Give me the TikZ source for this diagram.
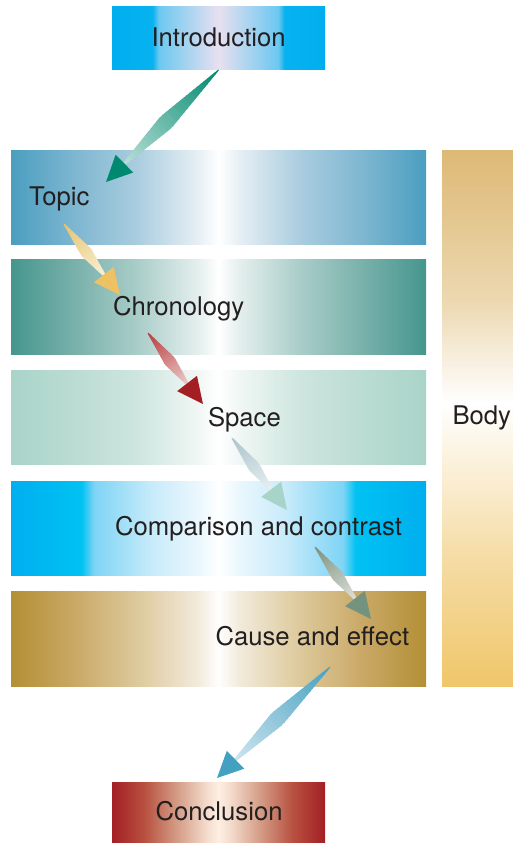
\documentclass[tikz,border=0pt]{standalone}
\usepackage{fontspec}
\setmainfont{TeX Gyre Heros}
\usetikzlibrary{calc}

\definecolor{txt}{HTML}{231F20}
% intro
\definecolor{iA}{HTML}{00AEEF}\definecolor{iB}{HTML}{08B2F0}\definecolor{iC}{HTML}{6CC8F0}\definecolor{iD}{HTML}{E8E0F0}
% topic
\definecolor{tA}{HTML}{4A9EC0}\definecolor{tB}{HTML}{7DB6D0}\definecolor{tC}{HTML}{A9CCDF}\definecolor{tD}{HTML}{E6EFF4}
% chronology
\definecolor{cA}{HTML}{45968E}\definecolor{cB}{HTML}{78B0AA}\definecolor{cC}{HTML}{A8CCC8}\definecolor{cD}{HTML}{E4EFED}
% space
\definecolor{sA}{HTML}{AAD4C9}\definecolor{sB}{HTML}{BADCD2}\definecolor{sC}{HTML}{CDE5DE}\definecolor{sD}{HTML}{F0F7F5}
% comparison
\definecolor{pA}{HTML}{00AEEF}\definecolor{pB}{HTML}{00C2F2}\definecolor{pC}{HTML}{7ED4F5}\definecolor{pD}{HTML}{C8EBFA}\definecolor{pE}{HTML}{EAF7FD}
% cause
\definecolor{eA}{HTML}{B38F35}\definecolor{eB}{HTML}{C9A865}\definecolor{eC}{HTML}{DCC89A}\definecolor{eD}{HTML}{F2EADB}
% conclusion
\definecolor{kA}{HTML}{A31F24}\definecolor{kB}{HTML}{B85040}\definecolor{kC}{HTML}{D39A84}\definecolor{kD}{HTML}{F5DECF}\definecolor{kE}{HTML}{FDEFE2}
% body
\definecolor{bTop}{HTML}{DDB975}\definecolor{bM1}{HTML}{ECD8B0}\definecolor{bMid}{HTML}{FFFFFF}\definecolor{bM2}{HTML}{F5DDA8}\definecolor{bBot}{HTML}{F0C66A}
% arrows
\definecolor{aOneS}{HTML}{00896F}\definecolor{aOneH}{HTML}{00896F}
\definecolor{aTwoS}{HTML}{E6C46C}\definecolor{aTwoH}{HTML}{EEC263}
\definecolor{aThrS}{HTML}{B83A3A}\definecolor{aThrH}{HTML}{A31F24}
\definecolor{aFouS}{HTML}{A9C4CB}\definecolor{aFouH}{HTML}{A8D3C8}
\definecolor{aFivS}{HTML}{7D8E78}\definecolor{aFivH}{HTML}{73937E}
\definecolor{aSixS}{HTML}{45A0C2}\definecolor{aSixH}{HTML}{42A0C0}

\newcommand\mkhshade[6]{%
\pgfdeclarehorizontalshading{#1}{100bp}{color(0bp)=(#2); color(25bp)=(#2); color(32.5bp)=(#3); color(40bp)=(#4); color(47.5bp)=(#5); color(50bp)=(#6); color(52.5bp)=(#5); color(60bp)=(#4); color(67.5bp)=(#3); color(75bp)=(#2); color(100bp)=(#2)}}
\mkhshade{topicsh}{tA}{tB}{tC}{tD}{white}
\mkhshade{chronsh}{cA}{cB}{cC}{cD}{white}
\mkhshade{spacesh}{sA}{sB}{sC}{sD}{white}
\mkhshade{causesh}{eA}{eB}{eC}{eD}{white}
\mkhshade{conclsh}{kA}{kB}{kC}{kD}{kE}
\pgfdeclarehorizontalshading{introsh}{100bp}{color(0bp)=(iA); color(25bp)=(iA); color(34.5bp)=(iB); color(36bp)=(iC); color(50bp)=(iD); color(64bp)=(iC); color(65.5bp)=(iB); color(75bp)=(iA); color(100bp)=(iA)}
\pgfdeclarehorizontalshading{compsh}{100bp}{color(0bp)=(pA); color(25bp)=(pA); color(33.5bp)=(pB); color(35bp)=(pC); color(42bp)=(pD); color(47.5bp)=(pE); color(50bp)=(white); color(52.5bp)=(pE); color(58bp)=(pD); color(65bp)=(pC); color(66.5bp)=(pB); color(75bp)=(pA); color(100bp)=(pA)}
\pgfdeclareverticalshading{bodysh}{100bp}{color(0bp)=(bBot); color(25bp)=(bBot); color(37.5bp)=(bM2); color(51.5bp)=(bMid); color(61bp)=(bM1); color(75bp)=(bTop); color(100bp)=(bTop)}

% tapered arrow: #1 tail, #2 tip, #3 shaft colour, #4 head colour, #5 max half width
\newcommand\tparrow[5]{%
 \pgfpointdiff{\pgfpointanchor{#1}{center}}{\pgfpointanchor{#2}{center}}%
 \pgfgetlastxy{\tpdx}{\tpdy}%
 \pgfmathsetmacro\tpang{atan2(\tpdy,\tpdx)}%
 \pgfmathsetmacro\tplen{veclen(\tpdx,\tpdy)}%
 \pgfmathsetmacro\tpbase{\tplen-26}%
 \pgfmathsetmacro\tpup{(#5-0.5)/0.56}%
 \pgfmathsetmacro\tpdn{(#5-1.5)/0.44}%
 \begin{scope}[shift={(#1)}, rotate=\tpang]
  \foreach \i in {0,...,29}{%
   \pgfmathsetmacro\ta{\i/30}%
   \pgfmathsetmacro\tb{min(1,(\i+1.3)/30)}%
   \pgfmathsetmacro\xa{\ta*\tpbase}%
   \pgfmathsetmacro\xb{\tb*\tpbase}%
   \pgfmathsetmacro\wa{min(0.5+\tpup*\ta,#5-\tpdn*(\ta-0.56))}%
   \pgfmathsetmacro\wb{min(0.5+\tpup*\tb,#5-\tpdn*(\tb-0.56))}%
   \pgfmathtruncatemacro\pc{100-72*(\i+0.5)/30}%
   \fill[#3!\pc!white] (\xa,\wa) -- (\xb,\wb) -- (\xb,-\wb) -- (\xa,-\wa) -- cycle;
  }
  \fill[#4] (\tplen,0) -- (\tpbase,12.5) -- (\tpbase,-12.5) -- cycle;
 \end{scope}}

\begin{document}
\begin{tikzpicture}[x=1pt,y=-1pt,
  box/.style={shade, draw=none, inner sep=0pt, outer sep=0pt},
  lbl/.style={anchor=base west, inner sep=0pt, outer sep=0pt, text=txt, font=\fontsize{25.7}{30}\selectfont}]
\useasboundingbox (0,0) rectangle (513,843);

% boxes
\node[box, shading=introsh, minimum width=213pt, minimum height=63pt] (intro) at (218.5,38.5) {};
\node[box, shading=topicsh, minimum width=415pt, minimum height=94pt] (topicbox) at (218.5,197) {};
\node[box, shading=chronsh, minimum width=415pt, minimum height=95pt] (chronbox) at (218.5,306.5) {};
\node[box, shading=spacesh, minimum width=415pt, minimum height=94pt] (spacebox) at (218.5,417) {};
\node[box, shading=compsh, minimum width=415pt, minimum height=94pt] (compbox) at (218.5,528) {};
\node[box, shading=causesh, minimum width=415pt, minimum height=95pt] (causebox) at (218.5,638.5) {};
\node[box, shading=bodysh, minimum width=71pt, minimum height=536pt] (bodybox) at (477.5,418) {};
\node[box, shading=conclsh, minimum width=213pt, minimum height=61pt] (concl) at (218.5,812.5) {};

% labels
\node[lbl] (introtxt) at (151.5,47) {Introduction};
\node[lbl] (topic) at (29,205) {Topic};
\node[lbl] (chron) at (113,315) {Chronology};
\node[lbl] (space) at (208,426) {Space};
\node[lbl] (comp) at (115,535.5) {Comparison and contrast};
\node[lbl] (cause) at (215.5,645.5) {Cause and effect};
\node[lbl] (body) at (452.5,424) {Body};
\node[lbl] (concltxt) at (155.5,820.5) {Conclusion};

% arrow end points
\coordinate (s1) at (intro.south);
\coordinate (t1) at (106,182);
\coordinate (s2) at (64,224);
\coordinate (t2) at (120,295);
\coordinate (s3) at (148,333);
\coordinate (t3) at (203,404);
\coordinate (s4) at (232,438);
\coordinate (t4) at (287,510);
\coordinate (s5) at (315,547);
\coordinate (t5) at (371,619);
\coordinate (s6) at (330,667);
\coordinate (t6) at (217,778);

\tparrow{s1}{t1}{aOneS}{aOneH}{8}
\tparrow{s2}{t2}{aTwoS}{aTwoH}{6}
\tparrow{s3}{t3}{aThrS}{aThrH}{6}
\tparrow{s4}{t4}{aFouS}{aFouH}{6}
\tparrow{s5}{t5}{aFivS}{aFivH}{6}
\tparrow{s6}{t6}{aSixS}{aSixH}{8}
\end{tikzpicture}
\end{document}
